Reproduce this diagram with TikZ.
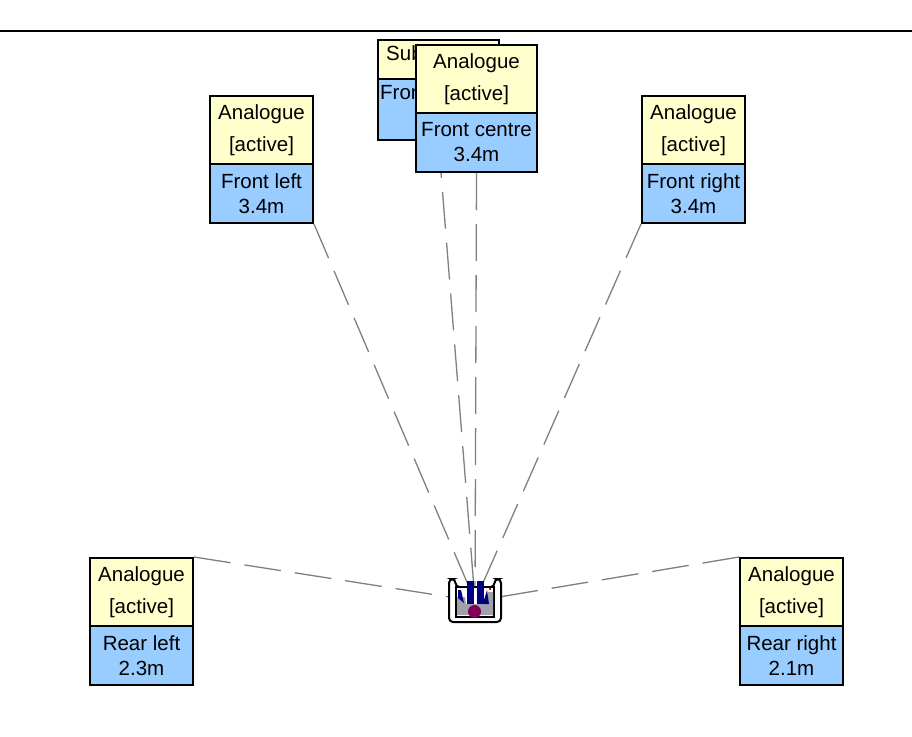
\documentclass[tikz,border=0pt]{standalone}
\usepackage{fontspec}
\usetikzlibrary{backgrounds}
\setmainfont{Liberation Sans}
\definecolor{capcol}{RGB}{255,255,204}
\definecolor{infocol}{RGB}{153,204,255}
\definecolor{linkcol}{RGB}{128,128,128}
\definecolor{iconblue}{RGB}{0,0,128}
\definecolor{icongrey}{RGB}{160,160,170}
\definecolor{iconred}{RGB}{128,0,90}
\tikzset{
 x=1pt,y=-1pt,
 boxbase/.style={draw=black,line width=2pt,minimum width=103pt,inner sep=0pt,align=center,anchor=north west},
 capbox/.style={boxbase,fill=capcol,minimum height=68pt,font=\fontsize{20.5}{32}\selectfont},
 infobox/.style={boxbase,fill=infocol,minimum height=59pt,font=\fontsize{20.5}{25}\selectfont},
 hiddentext/.style={anchor=north west,font=\fontsize{20.5}{25}\selectfont,inner sep=0pt},
 linkline/.style={draw=linkcol,line width=1.3pt,dash pattern=on 37pt off 14pt},
}
\begin{document}
\begin{tikzpicture}
\useasboundingbox (0,0) rectangle (912,736);
\begin{pgfonlayer}{background}
\fill[white] (0,0) rectangle (912,736);
\end{pgfonlayer}
\draw[black,line width=2pt] (0,31) -- (912,31);
% listener icon
\coordinate (ear) at (475,601);
\node[fill=white,minimum width=54pt,minimum height=38pt,inner sep=0pt] (icon) at (475,605) {};
\draw[black,line width=2pt,fill=white,rounded corners=4pt] (449,579) -- (449,622) -- (501,622) -- (501,579) -- (494.5,579) -- (494.5,587) -- (455.5,587) -- (455.5,579) -- cycle;
\fill[black] (455,586) rectangle (495,618);
\fill[white] (457,588) rectangle (493,616);
\fill[icongrey] (457,597) -- (465,597) -- (466,604) -- (485,604) -- (488,592) -- (493,592) -- (493,615) -- (457,615) -- cycle;
\fill[iconblue] (467,581) rectangle (474,604);
\fill[iconblue] (477,581) rectangle (484,604);
\fill[iconblue] (458,590) -- (461,590) -- (464,603) -- (458,598) -- cycle;
\fill[iconblue] (484,600) -- (487,590) -- (489,604) -- (484,604) -- cycle;
\fill[white] (488,588) rectangle (491,591);
\fill[red] (489,588) rectangle (491,590);
\fill[iconred] (474.5,611.5) circle[radius=6.5];
% partly hidden speaker
\node[capbox,minimum width=121pt,minimum height=39pt] (capsub) at (377,39) {};
\node[infobox,minimum width=121pt,minimum height=61pt] (infsub) at (377,78) {};
\node[hiddentext] (subt) at (386,45) {Sub};
\node[hiddentext] (subf) at (380,85) {Front};
% speakers
\foreach \nm/\px/\py/\bw/\ta/\tb in {
 a/209/95/103/Front left/3.4m,
 b/641/95/103/Front right/3.4m,
 c/415/44/121/Front centre/3.4m,
 d/89/557/103/Rear left/2.3m,
 e/739/557/103/Rear right/2.1m}{
 \node[capbox,minimum width=\bw pt] (cap\nm) at (\px,\py) {Analogue\\{}[active]};
 \node[infobox,minimum width=\bw pt] (inf\nm) at (\px,\py+68) {\ta\\\tb};
}
\begin{pgfonlayer}{background}
\draw[linkline] (infa.south east) -- (ear);
\draw[linkline] (infb.south west) -- (ear);
\draw[linkline] (infc.south) -- (ear);
\draw[linkline] (infsub.south) -- (ear);
\draw[linkline] (capd.north east) -- (ear);
\draw[linkline] (cape.north west) -- (ear);
\end{pgfonlayer}
\end{tikzpicture}
\end{document}
